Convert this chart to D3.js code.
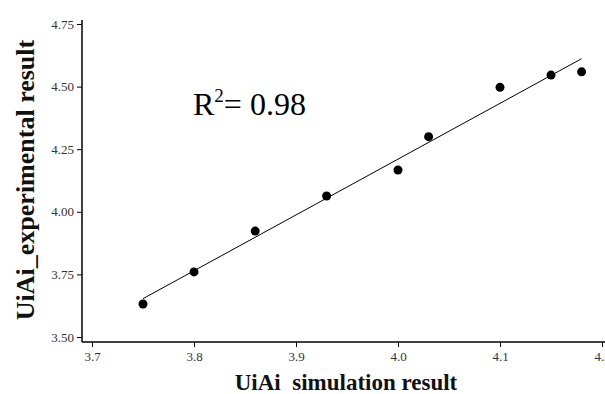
<!DOCTYPE html>
<html>
<head>
<meta charset="utf-8">
<script src="https://cdn.jsdelivr.net/npm/d3@7"></script>
<style>
  body { margin: 0; background: #fff; }
</style>
</head>
<body>
<div id="chart"></div>
<script>
// datos
const simulado = [3.75, 3.80, 3.86, 3.93, 4.00, 4.03, 4.10, 4.15, 4.18];
const experimental = [3.632, 3.76, 3.923, 4.063, 4.167, 4.30, 4.497, 4.546, 4.559];
const xTicks = [3.7, 3.8, 3.9, 4.0, 4.1, 4.2];
const yTicks = [3.50, 3.75, 4.00, 4.25, 4.50, 4.75];
const r2Texto = "0.98";

const w = 605, h = 394;
const fuente = "'Liberation Serif', 'Times New Roman', serif";

const svg = d3.select("#chart")
    .append("svg")
    .attr("width", w)
    .attr("height", h)
    .attr("font-family", fuente);

const xScale = d3.scaleLinear().domain([3.7, 4.2]).range([92, 602]);
const yScale = d3.scaleLinear().domain([3.5, 4.75]).range([337, 24]);

const xAxisY = 342, yAxisX = 82;

// ejes
const xAxis = d3.axisBottom(xScale)
    .tickValues(xTicks)
    .tickFormat(d3.format(".1f"))
    .tickSize(5)
    .tickPadding(5);

const yAxis = d3.axisLeft(yScale)
    .tickValues(yTicks)
    .tickFormat(d3.format(".2f"))
    .tickSize(5)
    .tickPadding(3);

const gx = svg.append("g")
    .attr("transform", `translate(0,${xAxisY})`)
    .call(xAxis)
    .attr("font-family", fuente)
    .attr("font-size", 13);
gx.select(".domain").remove();
gx.append("line")
    .attr("x1", yAxisX).attr("x2", w)
    .attr("stroke", "#000").attr("stroke-width", 1.5);

const gy = svg.append("g")
    .attr("transform", `translate(${yAxisX},0)`)
    .call(yAxis)
    .attr("font-family", fuente)
    .attr("font-size", 13);
gy.select(".domain").remove();
gy.append("line")
    .attr("y1", 20).attr("y2", xAxisY)
    .attr("stroke", "#000").attr("stroke-width", 1.5);

svg.selectAll(".tick text").attr("fill", "#333");
svg.selectAll(".tick line").attr("stroke", "#000");

// recta de regresion por minimos cuadrados
const mx = d3.mean(simulado), my = d3.mean(experimental);
const sxy = d3.sum(simulado, (x, i) => (x - mx) * (experimental[i] - my));
const sxx = d3.sum(simulado, x => (x - mx) * (x - mx));
const pendiente = sxy / sxx;
const corte = my - pendiente * mx;
const xExt = d3.extent(simulado);

svg.append("line")
    .attr("x1", xScale(xExt[0]))
    .attr("y1", yScale(corte + pendiente * xExt[0]))
    .attr("x2", xScale(xExt[1]))
    .attr("y2", yScale(corte + pendiente * xExt[1]))
    .attr("stroke", "#000")
    .attr("stroke-width", 1);

// puntos
svg.append("g")
    .selectAll("circle")
    .data(simulado)
    .enter()
    .append("circle")
    .attr("cx", d => xScale(d))
    .attr("cy", (d, i) => yScale(experimental[i]))
    .attr("r", 4.5)
    .attr("fill", "#000");

// R2
const r2 = svg.append("text")
    .attr("x", 193)
    .attr("y", 115)
    .attr("font-size", 32)
    .attr("fill", "#000");
r2.append("tspan").text("R");
r2.append("tspan").attr("dy", -13).attr("font-size", 19).text("2");
r2.append("tspan").attr("dy", 13).text("= " + r2Texto);

// titulos de ejes
svg.append("text")
    .attr("x", 346)
    .attr("y", 390)
    .attr("text-anchor", "middle")
    .attr("font-size", 23)
    .attr("font-weight", "bold")
    .attr("fill", "#111")
    .text("UiAi\u00A0 simulation result");

svg.append("text")
    .attr("transform", "rotate(-90)")
    .attr("x", -180)
    .attr("y", 34)
    .attr("text-anchor", "middle")
    .attr("font-size", 26)
    .attr("font-weight", "bold")
    .attr("fill", "#111")
    .text("UiAi_experimental result");
</script>
</body>
</html>
